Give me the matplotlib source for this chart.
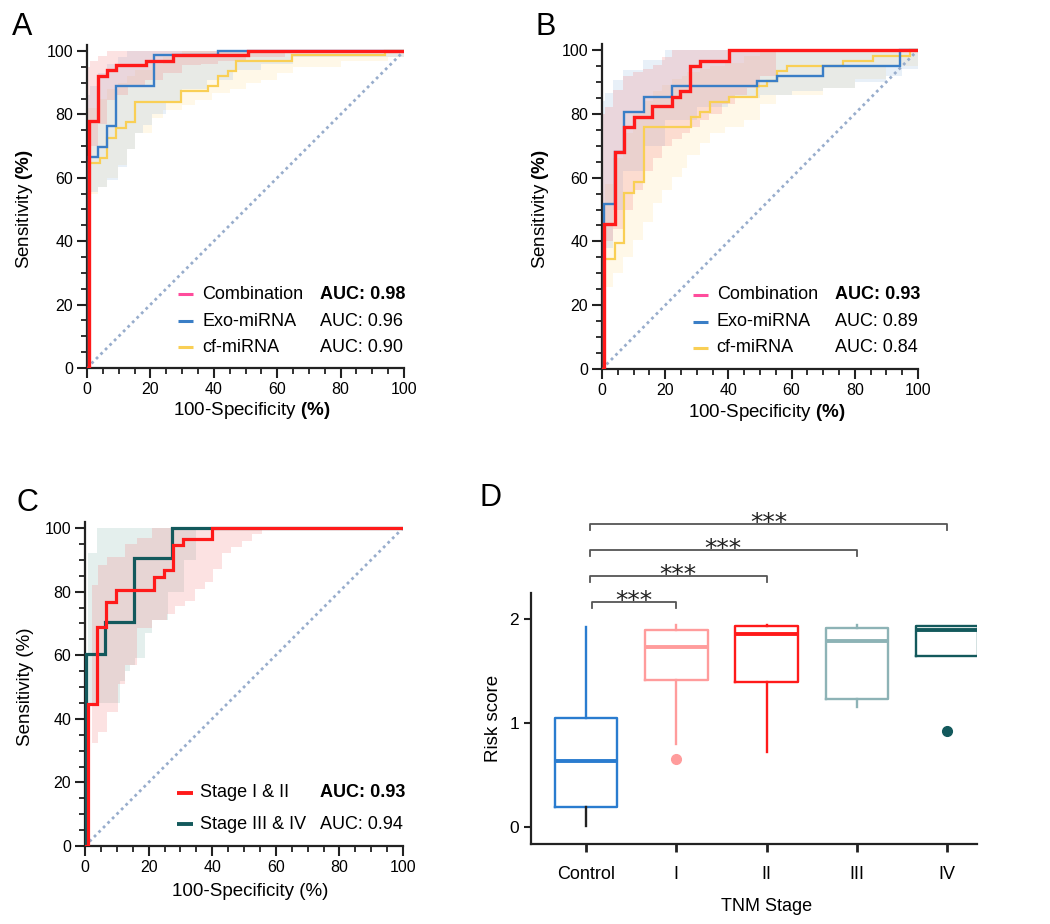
import matplotlib
matplotlib.use("Agg")
import matplotlib.pyplot as plt
from matplotlib.ticker import MultipleLocator

plt.rcParams['font.family'] = ['Liberation Sans', 'DejaVu Sans']
plt.rcParams['mathtext.fontset'] = 'custom'
plt.rcParams['mathtext.rm'] = 'Liberation Sans'
plt.rcParams['mathtext.bf'] = 'Liberation Sans:bold'

# ---------------- data ----------------
# Panel A ROC (x = 100-specificity, y = sensitivity), step vertices
A_comb_x = [0, 0.5, 3.5, 6.4, 9.3, 18.5, 27, 50.8, 100]
A_comb_y = [0, 78, 92, 94, 95.5, 97, 98.6, 100, 100]
A_exo_x = [0, 0.5, 3.5, 6.4, 9.3, 21, 41.3, 100]
A_exo_y = [0, 66.7, 69.8, 76.3, 88.9, 98.6, 100, 100]
A_cf_x = [0, 0.5, 4, 6.4, 9.3, 12.2, 15, 29.8, 38.2, 41.3, 44.5, 47.1, 64.8, 93.9, 100]
A_cf_y = [0, 64.7, 66.2, 72.6, 75.8, 77.6, 84, 87.4, 88.9, 92, 93.7, 97, 98.6, 100, 100]
# confidence bands (x, lower, upper)
A_comb_band_x = [0, 1, 3.6, 6.2, 9.4, 13, 18.3, 24, 29.9, 36, 41.4, 50, 62.5, 100]
A_comb_band_lo = [60, 70, 77, 84.6, 86, 89, 91, 93, 95.6, 96, 97, 98, 100, 100]
A_comb_band_hi = [95, 97, 98.5, 100, 100, 100, 100, 100, 100, 100, 100, 100, 100, 100]
A_exo_band_x = [0, 1, 3.6, 6.2, 9.9, 12.5, 15.1, 17.8, 20.4, 25, 30, 38, 46, 55, 65, 100]
A_exo_band_lo = [52, 55.6, 57.2, 59.4, 63.5, 69, 74, 76.6, 80, 84, 88, 91, 94, 96, 98, 100]
A_exo_band_hi = [86, 89, 93, 96, 98, 100, 100, 100, 100, 100, 100, 100, 100, 100, 100, 100]
A_cf_band_x = [0, 3.6, 6.2, 9.9, 12.5, 15.1, 20.4, 24.1, 29.9, 34.1, 39.3, 45, 50, 55, 60, 65, 80, 95, 100]
A_cf_band_lo = [55, 57, 60, 64, 69, 74, 79, 81.4, 83, 84.5, 86.6, 88, 90, 91, 93, 95, 97, 98, 100]
A_cf_band_hi = [82, 85, 88, 90, 92, 94, 96, 98, 100, 100, 100, 100, 100, 100, 100, 100, 100, 100, 100]

# Panel B ROC
B_comb_x = [0, 0.5, 4.2, 7, 10, 15.8, 22, 24.7, 27.9, 31, 40.3, 100]
B_comb_y = [0, 45.5, 68, 75.8, 79, 82.3, 85.4, 87.3, 95, 96.7, 100, 100]
B_exo_x = [0, 0.5, 4.2, 7, 13.2, 22, 49, 55.3, 70, 94.2, 100]
B_exo_y = [0, 51.8, 68, 80.7, 85.4, 88.7, 90.3, 91.9, 95.1, 100, 100]
B_cf_x = [0, 0.5, 4.2, 7, 10, 13.2, 28.1, 31, 34.2, 40.3, 49, 52.1, 55.3, 58.4, 76.3, 85.8, 97.4, 100]
B_cf_y = [0, 34.4, 39.5, 55.3, 58.5, 75.8, 79.1, 80.7, 83.8, 85.4, 88.7, 90.3, 93.5, 95.1, 96.7, 98.2, 100, 100]
B_comb_band_x = [0, 1, 3.6, 6.7, 9.9, 13.1, 16.2, 18.9, 22, 25.2, 28, 31, 34, 38, 42, 46, 50, 55, 100]
B_comb_band_lo = [30, 40, 44, 50, 56, 62, 66, 70, 72, 74, 76, 78, 80, 83, 86, 88, 92, 100, 100]
B_comb_band_hi = [80, 82, 87.5, 91.7, 93, 94, 95.3, 97.9, 100, 100, 100, 100, 100, 100, 100, 100, 100, 100, 100]
B_exo_band_x = [0, 1, 3.6, 6.7, 13.1, 20, 30, 40, 50, 60, 70, 80, 90, 95, 100]
B_exo_band_lo = [30, 38, 50, 62, 70, 78, 82, 85, 86, 87, 88, 90, 92, 94, 100]
B_exo_band_hi = [84, 86.4, 90.6, 93.7, 96.9, 100, 100, 100, 100, 100, 100, 100, 100, 100, 100]
B_cf_band_x = [0, 1, 3.6, 6.7, 9.9, 13.1, 16.2, 18.9, 22, 25.2, 26.8, 31, 34.2, 38.9, 45, 50, 55, 70, 80, 90, 100]
B_cf_band_lo = [24, 25.8, 30, 35.2, 40.4, 46.2, 52, 56, 60.3, 62.9, 67, 71, 74, 76, 78, 83, 86, 88, 91, 95, 100]
B_cf_band_hi = [52, 58, 66, 74, 80, 84, 87, 89, 91, 92, 93, 94, 95, 96, 98, 100, 100, 100, 100, 100, 100]

# Panel C ROC
C_s12_x = [0, 0.8, 3.8, 6.7, 9.7, 21.6, 24.8, 27.7, 30.7, 39.8, 100]
C_s12_y = [0, 44.5, 68.8, 76.6, 80.6, 84.5, 86.7, 94.5, 96.6, 100, 100]
C_s34_x = [0, 0.4, 6.3, 15.3, 27.3, 100]
C_s34_y = [0, 60.4, 70.3, 90.5, 100, 100]
C_s12_band_x = [0, 2.1, 4.2, 6.8, 10.5, 12.6, 16.2, 21, 25.7, 28.3, 31.4, 34.6, 37.7, 40.4, 43, 46,
                49.3, 52.4, 55.6, 100]
C_s12_band_lo = [0, 32.4, 36, 42, 51, 57, 68.6, 71, 73, 75.5, 77, 80.8, 82.9, 87, 92, 94, 95.8,
                 98, 100, 100]
C_s12_band_hi = [0, 82, 88.5, 91, 91, 95, 97, 100, 100, 100, 100, 100, 100, 100, 100, 100, 100,
                 100, 100, 100]
C_s34_band_x = [0, 1, 3.8, 8, 11, 12.6, 14, 15.7, 19, 21, 26, 31, 35, 100]
C_s34_band_lo = [0, 45, 45, 45, 52, 55, 57, 59, 67, 71, 80, 90, 100, 100]
C_s34_band_hi = [0, 92, 100, 100, 100, 100, 100, 100, 100, 100, 100, 100, 100, 100]

# Panel D box statistics
D_categories = ['Control', 'I', 'II', 'III', 'IV']
D_q1 = [0.19, 1.41, 1.39, 1.235, 1.645]
D_med = [0.635, 1.73, 1.855, 1.79, 1.895]
D_q3 = [1.045, 1.895, 1.93, 1.915, 1.935]
D_whislo = [0.01, 0.80, 0.72, 1.157, 1.645]
D_whishi = [1.92, 1.94, 1.945, 1.94, 1.935]
D_fliers = [[], [0.65], [], [], [0.925]]
D_pairs = [(0, 1), (0, 2), (0, 3), (0, 4)]
D_pair_heights = [2.16, 2.41, 2.66, 2.91]
D_pair_labels = ['***', '***', '***', '***']

# ---------------- style ----------------
RED = '#FF1A1A'
BLUE = '#3A7EC6'
YELLOW = '#F9CF55'
PINK = '#FF4C9C'
TEAL = '#13595C'
DIAG = '#98ADCC'

fig = plt.figure(figsize=(10.5, 9.24), dpi=100)


def style_roc(ax):
    ax.set_xlim(0, 100)
    ax.set_ylim(0, 102)
    for s in ['top', 'right']:
        ax.spines[s].set_visible(False)
    for s in ['left', 'bottom']:
        ax.spines[s].set_linewidth(1.6)
        ax.spines[s].set_color('#222222')
    ax.xaxis.set_major_locator(MultipleLocator(20))
    ax.xaxis.set_minor_locator(MultipleLocator(5))
    ax.yaxis.set_major_locator(MultipleLocator(20))
    ax.yaxis.set_minor_locator(MultipleLocator(5))
    ax.set_yticks([0, 20, 40, 60, 80, 100])
    ax.tick_params(which='major', length=7, width=1.5, labelsize=11.5, color='#222222', pad=3)
    ax.tick_params(which='minor', length=4, width=1.3, color='#222222')
    ax.plot([0, 100], [0, 100], linestyle=(0, (1, 1.3)), color=DIAG, lw=2.0, zorder=1)


def band(ax, x, lo, hi, color, alpha):
    ax.fill_between(x, lo, hi, step='post', color=color, alpha=alpha, lw=0, zorder=0.5)


def curve(ax, x, y, color, lw, z):
    ax.plot(x, y, drawstyle='steps-post', color=color, lw=lw, zorder=z, solid_joinstyle='miter')


def legend_rows(ax, rows, ys):
    for (lab, col, auc, bold), yy in zip(rows, ys):
        ax.plot([28.8, 33.4], [yy, yy], color=col, lw=2.2, solid_capstyle='butt', zorder=5)
        ax.text(36.3, yy, lab, fontsize=13, va='center', ha='left', zorder=5)
        ax.text(73.6, yy, auc, fontsize=13, va='center', ha='left',
                fontweight='bold' if bold else 'normal', zorder=5)


RED_BAND = ('#F27C7C', 0.22)
BLUE_BAND = ('#8FB5DE', 0.20)
YEL_BAND = ('#FFDD80', 0.18)
TEAL_BAND = ('#86B9AE', 0.22)

# ---- Panel A ----
axA = fig.add_axes([87 / 1050, 1 - 368 / 924, 317 / 1050, 102 * 3.17 / 924])
style_roc(axA)
band(axA, A_cf_band_x, A_cf_band_lo, A_cf_band_hi, *YEL_BAND)
band(axA, A_exo_band_x, A_exo_band_lo, A_exo_band_hi, *BLUE_BAND)
band(axA, A_comb_band_x, A_comb_band_lo, A_comb_band_hi, *RED_BAND)
curve(axA, A_cf_x, A_cf_y, YELLOW, 1.6, 3)
curve(axA, A_exo_x, A_exo_y, BLUE, 1.7, 3.5)
curve(axA, A_comb_x, A_comb_y, RED, 2.4, 4)
legend_rows(axA, [('Combination', PINK, 'AUC: 0.98', True),
                  ('Exo-miRNA', BLUE, 'AUC: 0.96', False),
                  ('cf-miRNA', YELLOW, 'AUC: 0.90', False)], [23.3, 14.8, 6.6])
axA.set_ylabel(r'Sensitivity $\mathbf{(\%)}$', fontsize=13.5)
axA.set_xlabel(r'100-Specificity $\mathbf{(\%)}$', fontsize=13.5)
axA.yaxis.set_label_coords(-0.165, 0.49)
axA.xaxis.set_label_coords(0.52, -0.10)

# ---- Panel B ----
axB = fig.add_axes([602 / 1050, 1 - 369 / 924, 316 / 1050, 102 * 3.19 / 924])
style_roc(axB)
band(axB, B_cf_band_x, B_cf_band_lo, B_cf_band_hi, *YEL_BAND)
band(axB, B_exo_band_x, B_exo_band_lo, B_exo_band_hi, *BLUE_BAND)
band(axB, B_comb_band_x, B_comb_band_lo, B_comb_band_hi, *RED_BAND)
curve(axB, B_cf_x, B_cf_y, YELLOW, 1.6, 3)
curve(axB, B_exo_x, B_exo_y, BLUE, 1.7, 3.5)
curve(axB, B_comb_x, B_comb_y, RED, 2.4, 4)
legend_rows(axB, [('Combination', PINK, 'AUC: 0.93', True),
                  ('Exo-miRNA', BLUE, 'AUC: 0.89', False),
                  ('cf-miRNA', YELLOW, 'AUC: 0.84', False)], [23.3, 14.8, 6.6])
axB.set_ylabel(r'Sensitivity $\mathbf{(\%)}$', fontsize=13.5)
axB.set_xlabel(r'100-Specificity $\mathbf{(\%)}$', fontsize=13.5)
axB.yaxis.set_label_coords(-0.16, 0.49)
axB.xaxis.set_label_coords(0.522, -0.10)

# ---- Panel C ----
axC = fig.add_axes([85 / 1050, 1 - 846 / 924, 318 / 1050, 102 * 3.18 / 924])
style_roc(axC)
band(axC, C_s34_band_x, C_s34_band_lo, C_s34_band_hi, *TEAL_BAND)
band(axC, C_s12_band_x, C_s12_band_lo, C_s12_band_hi, *RED_BAND)
curve(axC, C_s34_x, C_s34_y, TEAL, 2.3, 3.5)
curve(axC, C_s12_x, C_s12_y, RED, 2.3, 4)
for (lab, col, auc, bold), yy in zip([('Stage I & II', RED, 'AUC: 0.93', True),
                                      ('Stage III & IV', TEAL, 'AUC: 0.94', False)], [16.7, 6.9]):
    axC.plot([28.9, 34.0], [yy, yy], color=col, lw=2.8, solid_capstyle='butt', zorder=5)
    axC.text(36.2, yy, lab, fontsize=13, va='center', ha='left', zorder=5)
    axC.text(74.0, yy, auc, fontsize=13, va='center', ha='left',
             fontweight='bold' if bold else 'normal', zorder=5)
axC.set_ylabel('Sensitivity (%)', fontsize=13.5)
axC.set_xlabel('100-Specificity (%)', fontsize=13.5)
axC.yaxis.set_label_coords(-0.16, 0.49)
axC.xaxis.set_label_coords(0.52, -0.115)

# ---- Panel D ----
axD = fig.add_axes([531 / 1050, 1 - 844 / 924, 446 / 1050, 251 / 924])
box_colors = ['#2A7CCF', '#FF9C9C', '#FF1A1A', '#8DB3B6', '#13595C']
stats = []
for i in range(len(D_categories)):
    stats.append(dict(med=D_med[i], q1=D_q1[i], q3=D_q3[i], whislo=D_whislo[i],
                      whishi=D_whishi[i], fliers=D_fliers[i], label=D_categories[i]))
bp = axD.bxp(stats, positions=range(len(D_categories)), widths=0.69, showcaps=False,
             patch_artist=False, manage_ticks=False)
for i, c in enumerate(box_colors):
    bp['boxes'][i].set_color(c)
    bp['boxes'][i].set_linewidth(1.7)
    bp['medians'][i].set_color(c)
    bp['medians'][i].set_linewidth(2.8)
    for w in bp['whiskers'][2 * i:2 * i + 2]:
        w.set_color(c)
        w.set_linewidth(1.7)
    bp['fliers'][i].set_marker('o')
    bp['fliers'][i].set_markerfacecolor(c)
    bp['fliers'][i].set_markeredgecolor(c)
    bp['fliers'][i].set_markersize(7)
bp['whiskers'][0].set_color('#222222')
axD.set_xlim(-0.61, 4.33)
axD.set_ylim(-0.163, 2.25)
axD.set_xticks(range(len(D_categories)))
axD.set_xticklabels(D_categories, fontsize=13)
axD.set_yticks([0, 1, 2])
axD.tick_params(axis='y', labelsize=12.5, length=5, width=1.5, color='#222222')
axD.tick_params(axis='x', length=6, width=2, color='#222222', pad=10)
for s in ['top', 'right']:
    axD.spines[s].set_visible(False)
for s in ['left', 'bottom']:
    axD.spines[s].set_linewidth(1.6)
    axD.spines[s].set_color('#222222')
axD.set_ylabel('Risk score', fontsize=13.5)
axD.set_xlabel('TNM Stage', fontsize=13)
axD.yaxis.set_label_coords(-0.065, 0.50)
axD.xaxis.set_label_coords(0.529, -0.215)
for (a, b), h, lab in zip(D_pairs, D_pair_heights, D_pair_labels):
    xa = a + 0.04 if b > 1 else a + 0.07
    xb = b + 0.0
    axD.plot([xa, xa, xb, xb], [h - 0.05, h, h, h - 0.05], color='#555555', lw=1.3,
             clip_on=False)
    axD.text((xa + xb) / 2, h - 0.055, lab, ha='center', va='baseline', fontsize=18,
             family='DejaVu Sans', color='#222222', clip_on=False)

# ---- panel letters ----
for letter, (px, py) in zip(['A', 'B', 'C', 'D'], [(12, 12), (535, 12), (16, 488), (480, 483)]):
    fig.text(px / 1050, 1 - py / 924, letter, fontsize=22, ha='left', va='top')

fig.savefig('out.png', dpi=100)
